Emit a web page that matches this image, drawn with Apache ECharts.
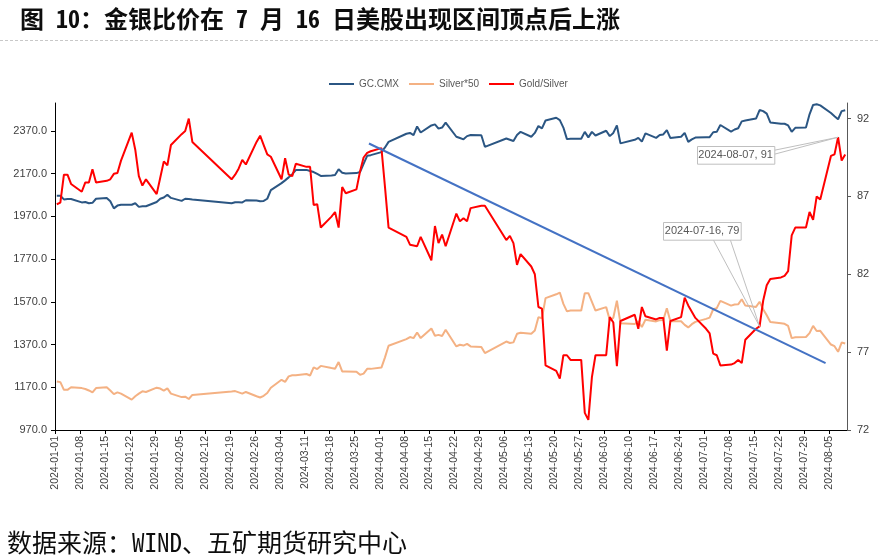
<!DOCTYPE html>
<html><head><meta charset="utf-8">
<script src="https://cdn.jsdelivr.net/npm/echarts@6/dist/echarts.min.js"></script>
<style>html,body{margin:0;padding:0;background:#fff}#c{width:879px;height:559px}</style>
</head><body><div id="c"></div>
<script>
// ---- data ----
const dates = [
 '2024-01-01','2024-01-02','2024-01-03','2024-01-04','2024-01-05','2024-01-08','2024-01-09','2024-01-10','2024-01-11','2024-01-12','2024-01-15','2024-01-16','2024-01-17','2024-01-18','2024-01-19','2024-01-22','2024-01-23','2024-01-24','2024-01-25','2024-01-26','2024-01-29','2024-01-30','2024-01-31',
 '2024-02-01','2024-02-02','2024-02-05','2024-02-06','2024-02-07','2024-02-08','2024-02-19','2024-02-20','2024-02-21','2024-02-22','2024-02-23','2024-02-26','2024-02-27','2024-02-28','2024-02-29',
 '2024-03-01','2024-03-04','2024-03-05','2024-03-06','2024-03-07','2024-03-08','2024-03-11','2024-03-12','2024-03-13','2024-03-14','2024-03-15','2024-03-18','2024-03-19','2024-03-20','2024-03-21','2024-03-22','2024-03-25','2024-03-26','2024-03-27','2024-03-28','2024-03-29',
 '2024-04-01','2024-04-02','2024-04-03','2024-04-08','2024-04-09','2024-04-10','2024-04-11','2024-04-12','2024-04-15','2024-04-16','2024-04-17','2024-04-18','2024-04-19','2024-04-22','2024-04-23','2024-04-24','2024-04-25','2024-04-26','2024-04-29','2024-04-30',
 '2024-05-06','2024-05-07','2024-05-08','2024-05-09','2024-05-10','2024-05-13','2024-05-14','2024-05-15','2024-05-16','2024-05-17','2024-05-20','2024-05-21','2024-05-22','2024-05-23','2024-05-24','2024-05-27','2024-05-28','2024-05-29','2024-05-30','2024-05-31',
 '2024-06-03','2024-06-04','2024-06-05','2024-06-06','2024-06-07','2024-06-11','2024-06-12','2024-06-13','2024-06-14','2024-06-17','2024-06-18','2024-06-19','2024-06-20','2024-06-21','2024-06-24','2024-06-25','2024-06-26','2024-06-27','2024-06-28',
 '2024-07-01','2024-07-02','2024-07-03','2024-07-04','2024-07-05','2024-07-08','2024-07-09','2024-07-10','2024-07-11','2024-07-12','2024-07-15','2024-07-16','2024-07-17','2024-07-18','2024-07-19','2024-07-22','2024-07-23','2024-07-24','2024-07-25','2024-07-26','2024-07-29','2024-07-30','2024-07-31',
 '2024-08-01','2024-08-02','2024-08-05','2024-08-06','2024-08-07','2024-08-08','2024-08-09'
];
const gcValues = [
 2066,2066,2049,2051,2051,2035,2037,2031,2033,2052,2055,2040,2007,2020,2024,2024,2031,2014,2017,2017,2037,2052,2058,
 2071,2056,2042,2052,2051,2049,2031,2036,2036,2035,2045,2044,2040,2042,2052,
 2092,2125,2138,2152,2167,2186,2187,2182,2177,2168,2159,2161,2163,2190,2174,2170,2172,2177,2215,2253,2256,
 2270,2292,2318,2356,2360,2350,2390,2362,2395,2400,2380,2385,2408,2342,2336,2330,2345,2350,2349,2295,
 2334,2328,2322,2350,2365,2342,2360,2392,2381,2418,2431,2420,2385,2331,2333,2333,2365,2339,2365,2348,
 2370,2345,2360,2395,2311,2328,2337,2319,2358,2337,2350,2353,2373,2336,2342,2360,2318,2330,2338,
 2340,2340,2363,2365,2397,2366,2376,2382,2414,2418,2427,2467,2462,2450,2409,2403,2403,2395,2365,2384,2385,2447,2491,
 2494,2489,2453,2438,2424,2462,2466
];
const silver50Values = [
 1197,1194,1158,1158,1170,1166,1162,1155,1146,1166,1170,1155,1138,1146,1140,1112,1128,1140,1151,1148,1168,1164,1154,
 1165,1140,1124,1126,1115,1134,1150,1152,1146,1140,1148,1128,1122,1130,1143,
 1168,1205,1195,1221,1226,1226,1232,1225,1263,1255,1270,1260,1257,1288,1244,1244,1243,1228,1234,1256,1256,
 1262,1310,1364,1395,1405,1400,1426,1400,1445,1411,1415,1410,1439,1361,1369,1365,1373,1361,1358,1330,
 1384,1377,1380,1420,1425,1420,1435,1498,1493,1587,1605,1613,1560,1525,1529,1529,1610,1610,1570,1529,
 1545,1485,1495,1575,1470,1466,1478,1452,1486,1478,1484,1485,1540,1479,1479,1462,1450,1465,1476,
 1490,1496,1535,1540,1574,1552,1557,1558,1582,1552,1546,1570,1535,1507,1475,1469,1467,1457,1400,1404,1405,1423,1457,
 1433,1434,1370,1362,1336,1379,1375
];
const ratioValues = [
 86.5,86.6,88.4,88.4,87.8,87.3,87.9,87.9,88.75,87.9,88.0,88.1,88.45,88.5,89.3,91.1,90.0,88.3,87.7,88.1,87.15,88.2,89.25,
 89.0,90.3,91.0,91.2,92.0,90.5,88.1,88.4,88.8,89.35,89.05,90.5,90.9,90.3,89.7,
 89.55,88.1,89.45,88.4,88.3,89.1,88.9,88.9,86.45,86.5,85.0,85.7,86.0,85.0,87.6,87.2,87.45,88.6,89.5,89.8,89.9,
 90.1,87.6,85.0,84.4,83.9,83.85,83.8,84.4,82.9,85.1,84.0,84.55,83.8,85.9,85.4,85.6,85.4,86.25,86.4,86.4,
 84.2,84.47,84.0,82.6,83.3,82.5,82.0,79.9,79.8,76.15,75.8,75.3,76.8,76.8,76.5,76.5,73.1,72.65,75.4,76.8,
 76.8,79.25,78.9,76.1,79.0,79.4,78.5,79.9,79.3,79.1,79.2,79.2,77.1,79.0,79.25,80.5,80.0,79.6,79.2,
 78.5,78.2,76.9,76.8,76.15,76.2,76.3,76.5,76.3,77.8,78.5,78.65,80.3,81.3,81.7,81.8,81.9,82.2,84.5,85.0,85.0,86.0,85.5,
 87.0,86.8,89.6,89.7,90.8,89.3,89.7
];
const trendLine = [['2024-03-29', 90.4], ['2024-08-04', 76.3]];
const calloutDates = ['2024-07-16', '2024-08-07'];
const xTickLabels = ['2024-01-01','2024-01-08','2024-01-15','2024-01-22','2024-01-29','2024-02-05','2024-02-12','2024-02-19','2024-02-26','2024-03-04','2024-03-11','2024-03-18','2024-03-25','2024-04-01','2024-04-08','2024-04-15','2024-04-22','2024-04-29','2024-05-06','2024-05-13','2024-05-20','2024-05-27','2024-06-03','2024-06-10','2024-06-17','2024-06-24','2024-07-01','2024-07-08','2024-07-15','2024-07-22','2024-07-29','2024-08-05'];
const leftTicks = [970,1170,1370,1570,1770,1970,2170,2370];
const rightTicks = [72,77,82,87,92];
const seriesNames = ['GC.CMX', 'Silver*50', 'Gold/Silver'];
const titleText = '图 10：金银比价在 7 月 16 日美股出现区间顶点后上涨';
const sourceText = '数据来源：WIND、五矿期货研究中心';

// ---- build ----
const ts = s => Date.parse(s + 'T00:00:00Z');
const HALF_DAY = 12 * 3600 * 1000; // points sit in the middle of each day slot
const pad = n => (n < 10 ? '0' : '') + n;
const fmtDate = v => { const d = new Date(v); return d.getUTCFullYear() + '-' + pad(d.getUTCMonth() + 1) + '-' + pad(d.getUTCDate()); };
const pairs = vals => dates.map((d, i) => [ts(d) + HALF_DAY, vals[i]]);
const labelFont = '"Liberation Sans", Arial, sans-serif';
const cjkFont = '"Noto Sans Mono CJK SC", "Noto Sans CJK SC", sans-serif';
const xTickValues = xTickLabels.map(ts);

const chart = echarts.init(document.getElementById('c'), null, {renderer: 'canvas'});
const option = {
  animation: false,
  backgroundColor: '#fff',
  grid: {left: 55, right: 32, top: 103, bottom: 129, containLabel: false},
  legend: {
    data: seriesNames.map(n => ({name: n, icon: 'rect'})),
    top: 74, left: 324, itemWidth: 25, itemHeight: 2, itemGap: 10,
    textStyle: {fontFamily: labelFont, fontSize: 10, color: '#595959'}
  },
  xAxis: {
    type: 'value', min: ts('2024-01-01'), max: ts('2024-08-10'),
    axisLine: {lineStyle: {color: '#000', width: 1}},
    axisTick: {show: true, length: 4, customValues: xTickValues, lineStyle: {color: '#000'}},
    axisLabel: {
      customValues: xTickValues, rotate: 90, margin: 6,
      fontFamily: labelFont, fontSize: 10.5, color: '#404040',
      formatter: v => fmtDate(v)
    },
    splitLine: {show: false}
  },
  yAxis: [
    {
      type: 'value', min: 970, max: 2500, position: 'left',
      axisLine: {show: true, lineStyle: {color: '#000', width: 1}},
      axisTick: {show: true, length: 4, customValues: leftTicks, lineStyle: {color: '#000'}},
      axisLabel: {customValues: leftTicks, margin: 8, fontFamily: labelFont, fontSize: 11, color: '#404040',
        formatter: v => v.toFixed(1)},
      splitLine: {show: false}
    },
    {
      type: 'value', min: 72, max: 93, position: 'right',
      axisLine: {show: true, lineStyle: {color: '#595959', width: 1}},
      axisTick: {show: true, length: 4, customValues: rightTicks, lineStyle: {color: '#595959'}},
      axisLabel: {customValues: rightTicks, margin: 10, fontFamily: labelFont, fontSize: 11, color: '#404040'},
      splitLine: {show: false}
    }
  ],
  series: [
    {name: seriesNames[0], type: 'line', yAxisIndex: 0, data: pairs(gcValues), symbol: 'none',
     lineStyle: {color: '#2B5683', width: 2}, itemStyle: {color: '#2B5683'}, z: 2},
    {name: seriesNames[1], type: 'line', yAxisIndex: 0, data: pairs(silver50Values), symbol: 'none',
     lineStyle: {color: '#F4B183', width: 2}, itemStyle: {color: '#F4B183'}, z: 2},
    {name: seriesNames[2], type: 'line', yAxisIndex: 1, data: pairs(ratioValues), symbol: 'none',
     lineStyle: {color: '#FF0000', width: 2}, itemStyle: {color: '#FF0000'}, z: 3},
    {name: 'trend', type: 'line', yAxisIndex: 1, data: trendLine.map(p => [ts(p[0]), p[1]]), symbol: 'none',
     lineStyle: {color: '#4472C4', width: 2}, itemStyle: {color: '#4472C4'}, z: 4, silent: true}
  ]
};
chart.setOption(option);

// ---- annotations (title, source, data callouts) ----
const graphics = [
  {type: 'text', z: 100, style: {text: titleText, x: 20, y: 19, verticalAlign: 'middle',
    font: 'bold 24px ' + cjkFont, fill: '#0d0d0d'}},
  {type: 'line', z: 100, shape: {x1: 0, y1: 40.5, x2: 879, y2: 40.5},
    style: {stroke: '#C8C8C8', lineWidth: 1, lineDash: [3, 2]}},
  {type: 'text', z: 100, style: {text: sourceText, x: 7, y: 542, verticalAlign: 'middle',
    font: '25px ' + cjkFont, fill: '#0d0d0d'}}
];
const boxLayouts = [
  {dx: -96.3, dy: -104.4, w: 77.7, h: 17.7, anchors: [[-46.3, -86.7], [-29.3, -86.7]]},
  {dx: -141.1, dy: 8.6, w: 77.3, h: 17.7, anchors: [[-63.8, 13.0], [-63.8, 17.0]]}
];
calloutDates.forEach((d, k) => {
  const i = dates.indexOf(d);
  const v = ratioValues[i];
  const p = chart.convertToPixel({seriesIndex: 2}, [ts(d) + HALF_DAY, v]);
  const L = boxLayouts[k];
  L.anchors.forEach(a => graphics.push({type: 'line', z: 99,
    shape: {x1: p[0] + a[0], y1: p[1] + a[1], x2: p[0], y2: p[1]},
    style: {stroke: '#BFBFBF', lineWidth: 1}}));
  graphics.push({type: 'rect', z: 100,
    shape: {x: Math.round(p[0] + L.dx) + 0.5, y: Math.round(p[1] + L.dy) + 0.5, width: L.w, height: L.h},
    style: {fill: '#fff', stroke: '#BFBFBF', lineWidth: 1}});
  graphics.push({type: 'text', z: 101, style: {
    text: d + ', ' + Math.round(v),
    x: p[0] + L.dx + L.w / 2, y: p[1] + L.dy + L.h / 2 + 0.5,
    align: 'center', verticalAlign: 'middle', font: '11px ' + labelFont, fill: '#595959'}});
});
chart.setOption({graphic: graphics});
</script></body></html>
